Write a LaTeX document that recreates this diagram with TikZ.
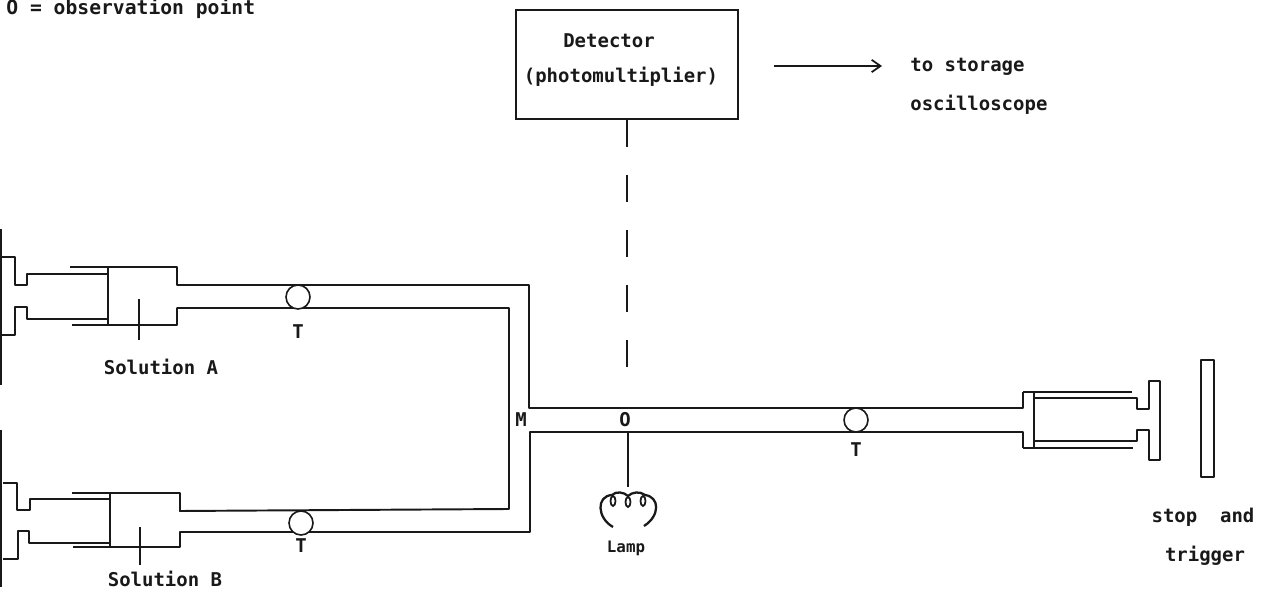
\documentclass[tikz,border=0pt]{standalone}
\usepackage{fontspec}
\setmonofont{DejaVu Sans Mono}
\usetikzlibrary{arrows.meta}
\tikzset{
  rig/.style={line width=1.1pt, line join=round, black!90},
  thin rig/.style={line width=1pt, black!90},
  label text/.style={font=\ttfamily\bfseries\fontsize{10.8pt}{12pt}\selectfont, inner sep=0pt, text=black!90},
  valve/.style={circle, draw=black!90, line width=0.9pt, fill=white, minimum size=0.48cm, inner sep=0pt},
}
\begin{document}
\begin{tikzpicture}[x=0.02cm, y=-0.02cm]
  \useasboundingbox (0,0) rectangle (1265,594);
  \node[label text, anchor=base west, font=\ttfamily\bfseries\fontsize{11.2pt}{12pt}\selectfont] (key) at (6,15) {O = observation point};
  % left plates
  \draw[rig] (1,229) -- (1,385);
  \draw[rig] (1,430) -- (1,587);
  % syringe A
  \draw[rig] (0,257) -- (15,257) -- (15,285) -- (27,285) -- (27,274) -- (108,274);
  \draw[rig] (0,335) -- (15,335) -- (15,307) -- (27,307) -- (27,319) -- (108,319);
  \draw[rig] (70,267) -- (177,267) -- (177,285) -- (529,285) -- (529,408) -- (1023,408) -- (1023,392);
  \draw[rig] (72,325) -- (177,325) -- (177,308) -- (509,308) -- (509,509) -- (180,511) -- (180,493) -- (72,493);
  \draw[rig] (108,267) -- (108,325);
  \draw[thin rig] (139,299) -- (139,340);
  \node[valve] (tA) at (298,297) {};
  \node[label text] (lblTA) at (298,332) {T};
  \node[label text] (solA) at (161,367) {Solution A};
  % syringe B
  \draw[rig] (3,483) -- (17,483) -- (17,510) -- (30,510) -- (30,499) -- (110,499);
  \draw[rig] (3,559) -- (18,559) -- (18,531) -- (29,531) -- (29,543) -- (110,543);
  \draw[rig] (73,547) -- (180,547) -- (180,532) -- (530,532) -- (530,432) -- (1023,432) -- (1023,448);
  \draw[rig] (110,493) -- (110,547);
  \draw[thin rig] (140,527) -- (140,565);
  \node[valve] (tB) at (301,523) {};
  \node[label text] (lblTB) at (301,546) {T};
  \node[label text] (solB) at (165,579) {Solution B};
  % mixer and observation point
  \node[label text] (mix) at (521,420) {M};
  \node[label text] (obs) at (625,420) {O};
  \node[valve] (tC) at (856,420) {};
  \node[label text] (lblTC) at (856,450) {T};
  % stop syringe
  \draw[rig] (1023,392) -- (1132,392);
  \draw[rig] (1023,448) -- (1133,448);
  \draw[rig] (1034,392) -- (1034,448);
  \draw[rig] (1034,398) -- (1137,398) -- (1137,409) -- (1149,409) -- (1149,381) -- (1160,381) -- (1160,460) -- (1149,460) -- (1149,430) -- (1137,430) -- (1137,441) -- (1034,441);
  \draw[rig] (1201,360) rectangle (1214,477);
  \node[label text] (stop) at (1203,517) {stop\ \ and};
  \node[label text] (trig) at (1205,556) {trigger};
  % detector
  \node[draw=black!90, line width=1.1pt, minimum width=4.44cm, minimum height=2.18cm] (det) at (627,64.5) {};
  \node[label text] (detA) at (609,41) {Detector};
  \node[label text] (detB) at (621,77) {(photomultiplier)};
  \coordinate (beam) at (627,368);
  \draw[thin rig, dash pattern=on 0.54cm off 0.56cm] (det.south) -- (beam);
  \coordinate (outA) at (774,66);
  \coordinate (outB) at (882,66);
  \draw[thin rig, -{Straight Barb[length=5pt,width=7pt]}] (outA) -- (outB);
  \node[label text, anchor=west] (to) at (910,67) {to storage};
  \node[label text, anchor=west] (osc) at (910,105) {oscilloscope};
  % lamp
  \coordinate (wire) at (628,487);
  \draw[thin rig] (628,432) -- (wire);
  \draw[rig, line width=1.3pt] (613,527) .. controls (597,518) and (596,496) .. (612,495) .. controls (616,491) and (624,492) .. (628,496) .. controls (632,492) and (640,491) .. (645,495) .. controls (660,497) and (660,516) .. (644,526);
  \draw[thin rig] (613,501) ellipse (2.5 and 5);
  \draw[thin rig] (628,502) ellipse (2.5 and 5);
  \draw[thin rig] (643,501) ellipse (2.5 and 5);
  \node[label text, font=\ttfamily\bfseries\fontsize{9pt}{11pt}\selectfont] (lamp) at (626,548) {Lamp};
\end{tikzpicture}
\end{document}
